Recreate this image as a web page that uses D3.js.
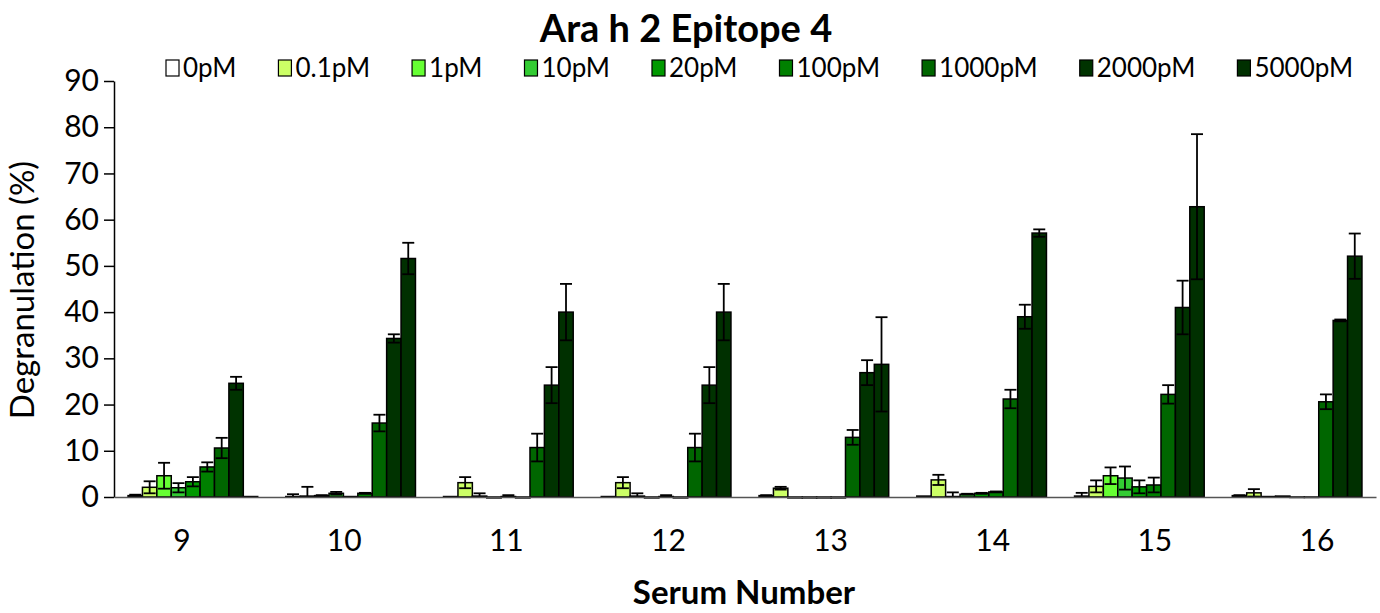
<!DOCTYPE html>
<html>
<head>
<meta charset="utf-8">
<script src="https://cdn.jsdelivr.net/npm/d3@7"></script>
<style>
  body { margin: 0; background: #fff; }
  text { font-family: Lato, "Open Sans", sans-serif; fill: #000; }
</style>
</head>
<body>
<svg id="chart" width="1380" height="613"></svg>
<script>
// Categories
const serums = ["9", "10", "11", "12", "13", "14", "15", "16"];
const concentrations = ["0pM", "0.1pM", "1pM", "10pM", "20pM", "100pM", "1000pM", "2000pM", "5000pM"];
const seriesColors = ["#ffffff", "#ccff66", "#66ff33", "#33cc33", "#009900", "#008000", "#006600", "#003300", "#003000"];
const yTicks = [0, 10, 20, 30, 40, 50, 60, 70, 80, 90];

// Mean degranulation (%) per concentration, one value per serum
const mean0pM    = [0.3, 0.1, 0.1, 0.1, 0.3, 0.2, 0.2, 0.3];
const mean01pM   = [2.1, 0.2, 3.1, 3.1, 1.9, 3.7, 2.3, 0.9];
const mean1pM    = [4.6, 0.3, 0.2, 0.2, -0.2, 0.1, 4.6, 0.1];
const mean10pM   = [2.0, 0.8, -0.2, -0.2, -0.2, 0.6, 4.1, 0.2];
const mean20pM   = [3.3, 0.1, 0.1, 0.1, -0.2, 0.8, 2.2, -0.1];
const mean100pM  = [6.5, 0.8, -0.2, -0.2, -0.2, 1.1, 2.6, -0.1];
const mean1000pM = [10.6, 16.0, 10.7, 10.7, 12.9, 21.2, 22.2, 20.6];
const mean2000pM = [24.6, 34.3, 24.2, 24.2, 26.9, 39.0, 41.0, 38.2];
const mean5000pM = [0.1, 51.6, 40.0, 40.0, 28.7, 57.1, 62.8, 52.1];

// Error (± SD) per concentration, one value per serum
const err0pM    = [0.2, 0.5, 0, 0, 0.1, 0, 0.7, 0.1];
const err01pM   = [1.3, 2.0, 1.2, 1.2, 0.3, 1.1, 1.3, 0.8];
const err1pM    = [2.8, 0.1, 0.6, 0.6, 0, 0.9, 1.8, 0];
const err10pM   = [1.0, 0.3, 0, 0, 0, 0.1, 2.5, 0];
const err20pM   = [1.0, 0, 0.3, 0.3, 0, 0.1, 1.4, 0];
const err100pM  = [1.0, 0.1, 0, 0, 0, 0.1, 1.6, 0];
const err1000pM = [2.2, 1.8, 3.0, 3.0, 1.6, 2.0, 2.0, 1.6];
const err2000pM = [1.4, 0.9, 3.9, 3.9, 2.7, 2.6, 5.8, 0.2];
const err5000pM = [0, 3.4, 6.1, 6.1, 10.2, 0.8, 15.7, 4.9];

const means = [mean0pM, mean01pM, mean1pM, mean10pM, mean20pM, mean100pM, mean1000pM, mean2000pM, mean5000pM];
const errs  = [err0pM, err01pM, err1pM, err10pM, err20pM, err100pM, err1000pM, err2000pM, err5000pM];

// Flat table of bars
const rows = [];
serums.forEach((s, si) => {
  concentrations.forEach((c, ci) => {
    rows.push({ serum: s, conc: c, value: means[ci][si], err: errs[ci][si] });
  });
});

const svg = d3.select("#chart");
const plotLeft = 114, plotRight = 1376, plotTop = 81, plotBottom = 497;

const x0 = d3.scaleBand().domain(serums).range([plotLeft, plotRight]).paddingInner(0.178).paddingOuter(0.089);
const x1 = d3.scaleBand().domain(concentrations).range([0, x0.bandwidth()]);
// category labels sit on a slightly wider spread than the bar clusters
const xLabel = d3.scaleBand().domain(serums).range([101, 1398]);
const y = d3.scaleLinear().domain([0, 90]).range([plotBottom, plotTop]);
const color = d3.scaleOrdinal().domain(concentrations).range(seriesColors);

// Clip error whiskers at the bottom of the plot area
svg.append("clipPath").attr("id", "plot-clip")
  .append("rect").attr("x", 0).attr("y", 0).attr("width", 1380).attr("height", plotBottom + 1);

// Bars
svg.append("g")
  .selectAll("rect")
  .data(rows)
  .join("rect")
  .attr("x", d => x0(d.serum) + x1(d.conc))
  .attr("width", x1.bandwidth())
  .attr("y", d => Math.min(y(d.value), y(0)))
  .attr("height", d => Math.abs(y(d.value) - y(0)))
  .attr("fill", d => color(d.conc))
  .attr("stroke", "#000")
  .attr("stroke-width", 1.5);

// Error bars (± with caps at both ends)
const capHalf = 6;
const eb = svg.append("g").attr("stroke", "#000").attr("stroke-width", 1.8).attr("clip-path", "url(#plot-clip)");
rows.filter(d => d.err > 0).forEach(d => {
  const cx = x0(d.serum) + x1(d.conc) + x1.bandwidth() / 2;
  const yHi = y(d.value + d.err), yLo = y(d.value - d.err);
  eb.append("line").attr("x1", cx).attr("x2", cx).attr("y1", yHi).attr("y2", yLo);
  eb.append("line").attr("x1", cx - capHalf).attr("x2", cx + capHalf).attr("y1", yHi).attr("y2", yHi);
  eb.append("line").attr("x1", cx - capHalf).attr("x2", cx + capHalf).attr("y1", yLo).attr("y2", yLo);
});

// Y axis
const yAxis = svg.append("g")
  .attr("transform", `translate(${plotLeft},0)`)
  .call(d3.axisLeft(y).tickValues(yTicks).tickSize(10).tickSizeOuter(0).tickPadding(5));
yAxis.select(".domain").attr("stroke", "#000").attr("stroke-width", 1.5);
yAxis.selectAll(".tick line").attr("stroke", "#000").attr("stroke-width", 1.5);
yAxis.selectAll(".tick text").attr("font-size", 30).attr("font-family", "Lato, sans-serif");

// X axis line
const xAxis = svg.append("g")
  .attr("transform", `translate(0,${plotBottom})`)
  .call(d3.axisBottom(x0).tickSize(0).tickSizeOuter(0).tickFormat(""));
xAxis.select(".domain").attr("stroke", "#555").attr("stroke-width", 1.5);

// X category labels
const xLabels = svg.append("g")
  .attr("transform", `translate(0,${plotBottom})`)
  .call(d3.axisBottom(xLabel).tickSize(0).tickSizeOuter(0).tickPadding(33));
xLabels.select(".domain").remove();
xLabels.selectAll(".tick text").attr("font-size", 30).attr("font-family", "Lato, sans-serif");

// Titles
svg.append("text")
  .attr("x", 686).attr("y", 42)
  .attr("text-anchor", "middle")
  .attr("font-size", 38).attr("font-weight", "bold")
  .text("Ara h 2 Epitope 4");

svg.append("text")
  .attr("x", 744).attr("y", 604)
  .attr("text-anchor", "middle")
  .attr("font-size", 33).attr("font-weight", "bold")
  .text("Serum Number");

svg.append("text")
  .attr("transform", "translate(34,290) rotate(-90)")
  .attr("text-anchor", "middle")
  .attr("font-size", 33)
  .text("Degranulation (%)");

// Legend
const legend = svg.append("g");
let lx = 166;
concentrations.forEach(c => {
  const g = legend.append("g").attr("transform", `translate(${lx},0)`);
  g.append("rect").attr("x", 0).attr("y", 60).attr("width", 13).attr("height", 16)
    .attr("fill", color(c)).attr("stroke", "#000").attr("stroke-width", 1.2);
  const t = g.append("text").attr("x", 17).attr("y", 77).attr("font-size", 26).text(c);
  lx += 17 + t.node().getComputedTextLength() + 42;
});
</script>
</body>
</html>
